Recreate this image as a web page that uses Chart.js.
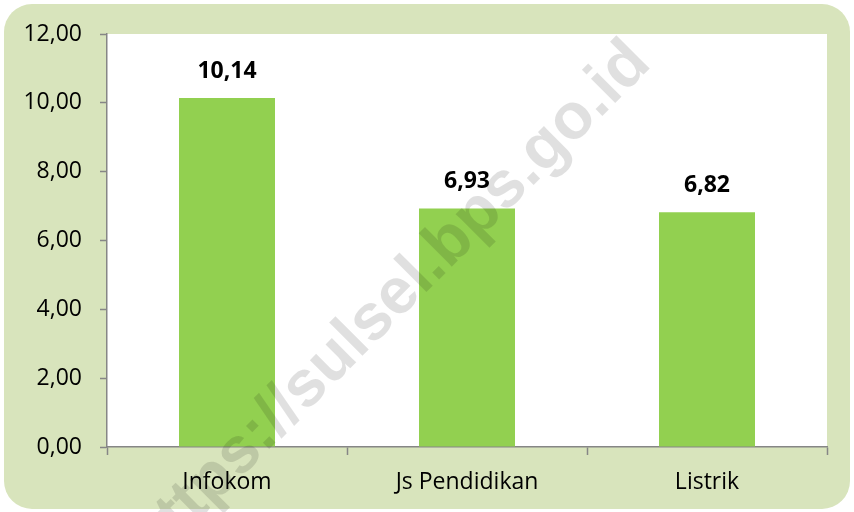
<!DOCTYPE html>
<html>
<head>
<meta charset="utf-8">
<script src="https://cdn.jsdelivr.net/npm/chart.js@4"></script>
<style>
  body { margin: 0; background: #ffffff; }
  #wrap { width: 854px; height: 512px; }
</style>
</head>
<body>
<div id="wrap"><canvas id="grafik" width="854" height="512"></canvas></div>
<script>
// data
const kategori = ['Infokom', 'Js Pendidikan', 'Listrik'];
const nilai = [10.14, 6.93, 6.82];
const sumbuY = { min: 0, max: 12, step: 2 };
const watermark = 'https://sulsel.bps.go.id';

const fontUtama = '"Open Sans", sans-serif';

function formatKoma(v) {
    return Number(v).toFixed(2).replace('.', ',');
}

// green rounded panel + white plot area
const latarPlugin = {
    id: 'latar',
    beforeDraw(chart) {
        const ctx = chart.ctx;
        const a = chart.chartArea;
        ctx.save();
        ctx.fillStyle = '#d8e4bc';
        ctx.beginPath();
        ctx.roundRect(4, 4, 846, 505, 28);
        ctx.fill();
        ctx.fillStyle = '#ffffff';
        ctx.fillRect(a.left, a.top, a.right - a.left, a.bottom - a.top);
        ctx.restore();
    }
};

// value labels above bars and faint watermark
const labelPlugin = {
    id: 'labelNilai',
    afterDatasetsDraw(chart) {
        const ctx = chart.ctx;
        const meta = chart.getDatasetMeta(0);
        ctx.save();
        ctx.font = 'bold 23px ' + fontUtama;
        ctx.fillStyle = '#000000';
        ctx.textAlign = 'center';
        ctx.textBaseline = 'middle';
        meta.data.forEach((bar, i) => {
            ctx.fillText(formatKoma(nilai[i]), bar.x, bar.y - 27);
        });
        ctx.restore();
    },
    afterDraw(chart) {
        const ctx = chart.ctx;
        ctx.save();
        ctx.translate(390, 303);
        ctx.rotate(-45 * Math.PI / 180);
        ctx.font = 'bold 65px "Liberation Sans", Arial, sans-serif';
        ctx.fillStyle = 'rgba(0, 0, 0, 0.12)';
        ctx.textAlign = 'center';
        ctx.textBaseline = 'middle';
        ctx.fillText(watermark, 0, 0);
        ctx.restore();
    }
};

const config = {
    type: 'bar',
    data: {
        labels: kategori,
        datasets: [{
            data: nilai,
            backgroundColor: '#92d050',
            borderWidth: 0,
            barPercentage: 0.4,
            categoryPercentage: 1.0
        }]
    },
    options: {
        responsive: false,
        animation: false,
        layout: { padding: { top: 34, right: 27, left: 0, bottom: 0 } },
        plugins: {
            legend: { display: false },
            tooltip: { enabled: false }
        },
        scales: {
            x: {
                offset: true,
                afterFit: (s) => { s.height = 65; },
                grid: {
                    offset: true,
                    drawOnChartArea: false,
                    drawTicks: true,
                    tickLength: 8,
                    tickColor: '#868686',
                    tickWidth: 1.5
                },
                border: { color: '#868686', width: 1.5 },
                ticks: {
                    color: '#000000',
                    padding: 14,
                    font: { family: fontUtama, size: 23 }
                }
            },
            y: {
                min: sumbuY.min,
                max: sumbuY.max,
                afterFit: (s) => { s.width = 107; },
                grid: {
                    drawOnChartArea: false,
                    drawTicks: true,
                    tickLength: 7,
                    tickColor: '#868686',
                    tickWidth: 1.5
                },
                border: { color: '#868686', width: 1.5 },
                ticks: {
                    stepSize: sumbuY.step,
                    color: '#000000',
                    padding: 18,
                    font: { family: fontUtama, size: 23 },
                    callback: (v) => formatKoma(v)
                }
            }
        }
    },
    plugins: [latarPlugin, labelPlugin]
};

new Chart(document.getElementById('grafik'), config);
</script>
</body>
</html>
